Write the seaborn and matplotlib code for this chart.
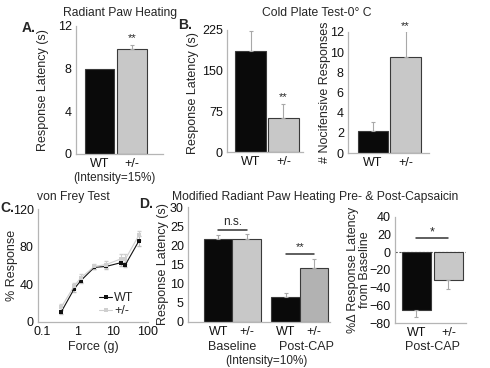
import numpy as np
import pandas as pd
import matplotlib.pyplot as plt
import seaborn as sns
from matplotlib.ticker import AutoMinorLocator

sns.set_style("white")
plt.rcParams['font.family'] = ['Liberation Sans', 'DejaVu Sans']

genotypes = ['WT', '+/-']

# A. radiant paw heating (intensity 15%)
heat_latency = [8.0, 9.8]
heat_err = [0.0, 0.4]

# B. cold plate 0 C
cold_latency = [186, 62]
cold_latency_err = [37, 26]
cold_nocif = [2.15, 9.5]
cold_nocif_err = [0.9, 2.55]

# C. von Frey
force_g = [0.35, 0.8, 1.25, 3, 6.5, 17, 23, 55]
vf_wt = [11, 35, 44, 58, 59, 63, 61, 86]
vf_het = [16, 38, 47, 59, 61, 67, 67, 92]
vf_wt_err = [2, 3, 3, 2, 3, 4, 3, 5]
vf_het_err = [3, 3, 4, 3, 4, 5, 5, 5]

# D. radiant paw heating pre/post capsaicin (intensity 10%)
cap_phase = ['Baseline', 'Post-CAP']
cap_wt = [21.6, 6.5]
cap_het = [21.6, 14.2]
cap_wt_err = [1.2, 1.1]
cap_het_err = [1.4, 2.3]
cap_change = [-65.7, -31.0]
cap_change_err = [7.5, 11.0]

W, H = 490, 368
fig = plt.figure(figsize=(4.9, 3.68), dpi=100)
fig.patch.set_facecolor('white')

BLACK = '#0a0a0a'
LIGHT = '#c8c8c8'
MID = '#b2b2b2'
ERR = '#a8a8a8'


def box(l, t, r, b):
    return fig.add_axes([l / W, 1 - b / H, (r - l) / W, (b - t) / H])


def ftext(x, y, s, **kw):
    kw.setdefault('ha', 'center')
    kw.setdefault('va', 'center')
    fig.text(x / W, 1 - y / H, s, **kw)


def style(ax):
    sns.despine(ax=ax)
    for s in ['left', 'bottom']:
        ax.spines[s].set_color('#b5b5b5')
        ax.spines[s].set_linewidth(0.9)
    ax.tick_params(axis='x', length=0, labelsize=9, colors='#111', pad=3)
    ax.tick_params(axis='y', which='major', direction='in', length=3,
                   color='#cccccc', labelsize=9, labelcolor='#111', pad=3)
    ax.tick_params(axis='y', which='minor', direction='in', length=2, color='#d5d5d5')
    ax.yaxis.set_minor_locator(AutoMinorLocator(2))
    ax.set_xlabel('')


def bars(ax, vals, errs, width):
    sns.barplot(x=genotypes, y=vals, hue=genotypes, palette=[BLACK, LIGHT],
                legend=False, width=width, saturation=1, edgecolor='#3a3a3a',
                linewidth=0.8, ax=ax)
    for i, (v, e) in enumerate(zip(vals, errs)):
        if e <= 0:
            continue
        yerr = [[0], [e]] if v >= 0 else [[e], [0]]
        ax.errorbar(i, v, yerr=yerr, fmt='none', ecolor=ERR, elinewidth=0.8,
                    capsize=1.5, capthick=0.8, zorder=1)


# ---------------- A ----------------
axA = box(76, 26, 163, 154)
bars(axA, heat_latency, heat_err, 0.9)
style(axA)
axA.set_ylim(0, 12)
axA.set_yticks([0, 4, 8, 12])
axA.set_xlim(-0.72, 1.95)
axA.set_ylabel('Response Latency (s)', fontsize=9)
axA.yaxis.set_label_coords(-0.31, 0.5)
axA.text(1, 10.9, '**', ha='center', va='center', fontsize=8)
axA.text(0.45, -0.19, '(Intensity=15%)', transform=axA.get_xaxis_transform(),
         ha='center', va='center', fontsize=8.5)
ftext(120, 13, 'Radiant Paw Heating', fontsize=8.7)
ftext(29, 28, 'A.', fontsize=10, fontweight='bold')

# ---------------- B ----------------
axB1 = box(227, 30, 303, 152)
bars(axB1, cold_latency, cold_latency_err, 0.93)
style(axB1)
axB1.set_ylim(0, 225)
axB1.set_yticks([0, 75, 150, 225])
axB1.set_xlim(-0.72, 1.6)
axB1.set_ylabel('Response Latency (s)', fontsize=9)
axB1.yaxis.set_label_coords(-0.37, 0.48)
axB1.text(1, 101, '**', ha='center', va='center', fontsize=8)

axB2 = box(348, 32, 429, 153)
bars(axB2, cold_nocif, cold_nocif_err, 0.93)
style(axB2)
axB2.set_ylim(0, 12)
axB2.set_yticks([0, 2, 4, 6, 8, 10, 12])
axB2.yaxis.set_minor_locator(AutoMinorLocator(1))
axB2.set_xlim(-0.77, 1.72)
axB2.set_ylabel('# Nocifensive Responses', fontsize=9)
axB2.yaxis.set_label_coords(-0.21, 0.5)
axB2.text(1, 12.6, '**', ha='center', va='center', fontsize=8, clip_on=False)
ftext(317, 13, 'Cold Plate Test-0\u00b0 C', fontsize=8.7)
ftext(185, 25, 'B.', fontsize=10, fontweight='bold')

# ---------------- C ----------------
axC = box(38, 209, 148, 322)
vf = pd.DataFrame({
    'force': force_g * 2,
    'resp': vf_wt + vf_het,
    'genotype': ['WT'] * len(force_g) + ['+/-'] * len(force_g),
})
c_pal = {'WT': '#111111', '+/-': '#cfcfcf'}
sns.lineplot(data=vf, x='force', y='resp', hue='genotype', palette=c_pal,
             marker='s', markersize=2.5, markeredgewidth=0, linewidth=0.8,
             ax=axC, zorder=3)
axC.errorbar(force_g, vf_het, yerr=vf_het_err, fmt='none', ecolor='#d0d0d0',
             elinewidth=0.7, capsize=1.2, zorder=1)
axC.errorbar(force_g, vf_wt, yerr=vf_wt_err, fmt='none', ecolor='#bdbdbd',
             elinewidth=0.7, capsize=1.2, zorder=2)
axC.set_xscale('log')
style(axC)
axC.tick_params(axis='x', which='both', length=0)
axC.set_xlim(0.076, 100)
axC.set_xticks([0.1, 1, 10, 100])
axC.set_xticklabels(['0.1', '1', '10', '100'])
axC.set_ylim(0, 120)
axC.set_yticks([0, 40, 80, 120])
axC.set_xlabel('Force (g)', fontsize=9, labelpad=2)
axC.set_ylabel('% Response', fontsize=9)
axC.yaxis.set_label_coords(-0.18, 0.5)
leg = axC.legend(loc='upper left', bbox_to_anchor=(0.5, 0.32), frameon=False,
                 fontsize=9, handlelength=1.0, handletextpad=0.2,
                 borderpad=0, labelspacing=0.1)
ftext(73, 197, 'von Frey Test', fontsize=8.7)
ftext(0, 208, 'C.', fontsize=10, fontweight='bold', ha='left')

# ---------------- D ----------------
axD1 = box(188, 207, 330, 322)
capdf = pd.DataFrame({
    'phase': cap_phase * 2,
    'lat': cap_wt + cap_het,
    'err': cap_wt_err + cap_het_err,
    'genotype': ['WT'] * 2 + ['+/-'] * 2,
})
sns.barplot(data=capdf, x='phase', y='lat', hue='genotype',
            palette={'WT': BLACK, '+/-': LIGHT}, width=0.84, saturation=1,
            edgecolor='#3a3a3a', linewidth=0.8, legend=False, ax=axD1)
rects = sorted([p for p in axD1.patches if p.get_height() > 0], key=lambda p: p.get_x())
rects[3].set_facecolor(MID)
centers = [p.get_x() + p.get_width() / 2 for p in rects]
heights = [p.get_height() for p in rects]
errs = [cap_wt_err[0], cap_het_err[0], cap_wt_err[1], cap_het_err[1]]
axD1.errorbar(centers, heights, yerr=[[0] * 4, errs], fmt='none', ecolor=ERR,
              elinewidth=0.8, capsize=1.5, capthick=0.8, zorder=1)
style(axD1)
axD1.set_ylim(0, 30)
axD1.set_yticks([0, 5, 10, 15, 20, 25, 30])
axD1.yaxis.set_minor_locator(AutoMinorLocator(1))
axD1.set_xlim(-0.66, 1.45)
axD1.set_xticks(centers)
axD1.set_xticklabels(['WT', '+/-', 'WT', '+/-'])
axD1.set_ylabel('Response Latency (s)', fontsize=9)
axD1.yaxis.set_label_coords(-0.135, 0.5)
axD1.plot(centers[0:2], [24.1, 24.1], color='#333', lw=1.1)
axD1.text(np.mean(centers[0:2]), 26.0, 'n.s.', ha='center', va='center', fontsize=8.5)
axD1.plot(centers[2:4], [17.8, 17.8], color='#333', lw=1.1)
axD1.text(np.mean(centers[2:4]), 19.6, '**', ha='center', va='center', fontsize=8)
xt = axD1.get_xaxis_transform()
axD1.text(0, -0.22, 'Baseline', transform=xt, ha='center', va='center', fontsize=9)
axD1.text(1.1, -0.22, 'Post-CAP', transform=xt, ha='center', va='center', fontsize=9)
axD1.text(0.5, -0.335, '(Intensity=10%)', transform=xt, ha='center', va='center', fontsize=8.5)

axD2 = box(395, 217, 466, 323)
bars(axD2, cap_change, cap_change_err, 0.9)
style(axD2)
axD2.set_ylim(-80, 40)
axD2.set_yticks([-80, -60, -40, -20, 0, 20, 40])
axD2.yaxis.set_minor_locator(AutoMinorLocator(1))
axD2.set_xlim(-0.67, 1.55)
axD2.axhline(0, color='#555', lw=0.8, ls=(0, (2, 1.5)), zorder=0)
axD2.set_ylabel('%\u0394 Response Latency\nfrom Baseline', fontsize=9, linespacing=0.95)
axD2.yaxis.set_label_coords(-0.34, 0.5)
axD2.plot([0, 1], [16.2, 16.2], color='#333', lw=1.1)
axD2.text(0.5, 22, '*', ha='center', va='center', fontsize=9)
axD2.text(0.5, -0.23, 'Post-CAP', transform=axD2.get_xaxis_transform(),
          ha='center', va='center', fontsize=9)
ftext(315, 197, 'Modified Radiant Paw Heating Pre- & Post-Capsaicin', fontsize=8.7)
ftext(146, 204, 'D.', fontsize=10, fontweight='bold')

fig.savefig('out.png', dpi=100, facecolor='white')
